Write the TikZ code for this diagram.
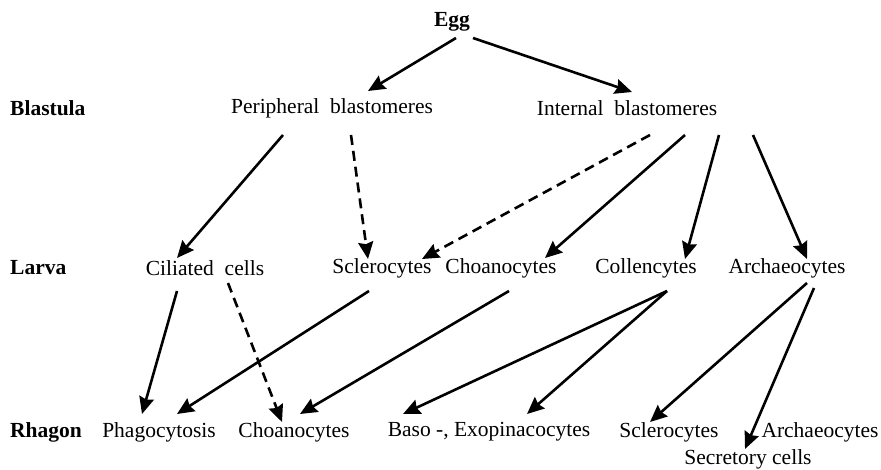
\documentclass[tikz,border=0pt]{standalone}
\usepackage{fontspec}
\setmainfont{Liberation Serif}
\usetikzlibrary{arrows.meta,calc}

\tikzset{
  lbl/.style={inner sep=0pt, font=\fontsize{21.5}{25}\selectfont},
  stage/.style={lbl, anchor=west, font=\fontsize{21.5}{25}\selectfont\bfseries},
  arr/.style={line width=2.6pt, -{Stealth[length=17pt,width=15pt,inset=2pt]}},
  darr/.style={arr, dash pattern=on 10pt off 6pt}
}

\begin{document}
\begin{tikzpicture}[x=1pt,y=-1pt]
  \useasboundingbox (0,0) rectangle (881,470);

  % stages
  \node[stage] (blastula) at (10,108) {Blastula};
  \node[stage] (larva) at (10,268) {Larva};
  \node[stage] (rhagon) at (10,432) {Rhagon};

  % cells
  \node[lbl, font=\fontsize{21.5}{25}\selectfont\bfseries] (egg) at (452,22) {Egg};
  \node[lbl] (peri) at (332,108) {Peripheral\ \ blastomeres};
  \node[lbl] (inter) at (627,108) {Internal\ \ blastomeres};

  \node[lbl] (cil) at (205,268) {Ciliated\ \ cells};
  \node[lbl] (lscl) at (382,268) {Sclerocytes};
  \node[lbl] (lcho) at (501,268) {Choanocytes};
  \node[lbl] (col) at (646,268) {Collencytes};
  \node[lbl] (larc) at (787,268) {Archaeocytes};

  \node[lbl] (phago) at (159,432) {Phagocytosis};
  \node[lbl] (rcho) at (294,432) {Choanocytes};
  \node[lbl] (baso) at (489,432) {Baso -, Exopinacocytes};
  \node[lbl] (rscl) at (669,432) {Sclerocytes};
  \node[lbl] (rarc) at (820,432) {Archaeocytes};
  \node[lbl] (secr) at (748,459) {Secretory cells};

  % egg -> blastula
  \draw[arr] ($(egg)+(4,16)$) -- ($(peri)+(36,-17)$);
  \draw[arr] ($(egg)+(21,16)$) -- ($(inter)+(5,-16)$);

  % blastula -> larva
  \draw[arr] ($(peri)+(-49,27)$) -- ($(cil)+(-28,-10)$);
  \draw[darr] ($(peri)+(19,27)$) -- ($(lscl)+(-14,-9)$);
  \draw[darr] ($(inter)+(23,27)$) -- ($(lscl)+(40,-9)$);
  \draw[arr] ($(inter)+(58,27)$) -- ($(lcho)+(44,-10)$);
  \draw[arr] ($(inter)+(92,27)$) -- ($(col)+(39,-9)$);
  \draw[arr] ($(inter)+(126,27)$) -- ($(larc)+(20,-9)$);

  % larva -> rhagon
  \draw[arr] ($(cil)+(-28,23)$) -- ($(phago)+(-17,-18)$);
  \draw[darr] ($(cil)+(23,15)$) -- ($(rcho)+(-12,-10)$);
  \draw[arr] ($(lscl)+(-13,23)$) -- ($(phago)+(18,-18)$);
  \draw[arr] ($(lcho)+(8,23)$) -- ($(rcho)+(6,-18)$);
  \draw[arr] ($(col)+(21,23)$) -- ($(baso)+(-86,-18)$);
  \draw[arr] ($(col)+(21,23)$) -- ($(baso)+(38,-18)$);
  \draw[arr] ($(larc)+(20,15)$) -- ($(rscl)+(-19,-10)$);
  \draw[arr] ($(larc)+(27,20)$) -- ($(secr)+(-3,-10)$);
\end{tikzpicture}
\end{document}
